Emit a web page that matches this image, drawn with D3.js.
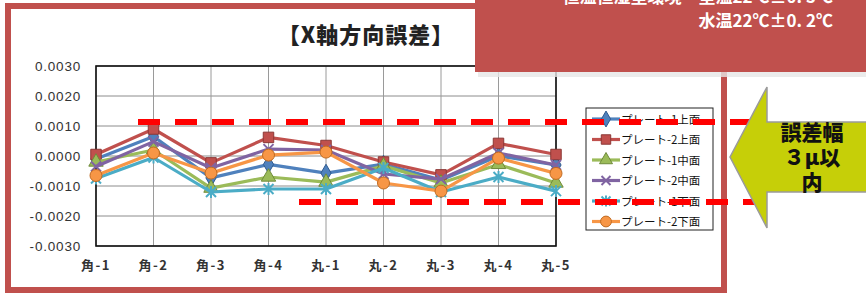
<!DOCTYPE html>
<html><head><meta charset="utf-8">
<script src="https://cdn.jsdelivr.net/npm/d3@7/dist/d3.min.js"></script>
<style>html,body{margin:0;padding:0;background:#fff;overflow:hidden}</style>
</head><body>
<script>
const categories = ["角-1","角-2","角-3","角-4","丸-1","丸-2","丸-3","丸-4","丸-5"];
const seriesNames = ["プレート-1上面","プレート-2上面","プレート-1中面","プレート-2中面","プレート-1下面","プレート-2下面"];
const plate1Top    = [-0.00010, 0.00065, -0.00073, -0.00028, -0.00057, -0.00027, -0.00080,  0.00000, -0.00030];
const plate2Top    = [ 0.00005, 0.00090, -0.00023,  0.00062,  0.00035, -0.00020, -0.00063,  0.00042,  0.00005];
const plate1Mid    = [-0.00020, 0.00020, -0.00107, -0.00070, -0.00087, -0.00033, -0.00090, -0.00028, -0.00090];
const plate2Mid    = [-0.00035, 0.00048, -0.00040,  0.00023,  0.00020, -0.00060, -0.00077,  0.00010, -0.00030];
const plate1Bottom = [-0.00075,-0.00005, -0.00120, -0.00110, -0.00110, -0.00040, -0.00120, -0.00070, -0.00117];
const plate2Bottom = [-0.00065, 0.00010, -0.00057,  0.00003,  0.00013, -0.00090, -0.00117, -0.00007, -0.00058];
const yTicks = [0.003, 0.002, 0.001, 0, -0.001, -0.002, -0.003];
const yTickLabels = ["0.0030","0.0020","0.0010","0.0000","-0.0010","-0.0020","-0.0030"];
const title = "【X軸方向誤差】";
const boxLine1 = "恒温恒湿室環境－室温22℃±0. 5℃";
const boxLine2 = "水温22℃±0. 2℃";
const arrowLines = ["誤差幅","３μ以","内"];
const bandLimits = [0.00113, -0.00153];

const seriesData = [plate1Top, plate2Top, plate1Mid, plate2Mid, plate1Bottom, plate2Bottom];
const colors = ["#4F81BD","#C0504D","#9BBB59","#8064A2","#4BACC6","#F79646"];
const strokes = ["#2f5a8f","#8C3836","#6f8b3a","#5c4680","#2f8aa3","#c06a20"];
const markerTypes = ["diamond","square","triangle","x","star","circle"];

const W = 866, H = 297;
const svg = d3.select("body").append("svg").attr("width", W).attr("height", H)
  .style("font-family","'Liberation Sans', Arial, sans-serif");

const x = d3.scalePoint().domain(categories).range([96, 556]).padding(0);
const y = d3.scaleLinear().domain([-0.003, 0.003]).range([246, 66]);

// outer frame
svg.append("rect").attr("x", 8).attr("y", 6).attr("width", 716).attr("height", 284)
  .attr("fill", "#fff").attr("stroke", "#c0504d").attr("stroke-width", 6);

// title
svg.append("text").attr("x", 366).attr("y", 43).attr("text-anchor", "middle")
  .style("font-family","'Noto Sans CJK JP', sans-serif").style("font-weight","900")
  .style("font-size","22px").style("letter-spacing","1px").attr("fill","#222").text(title);

// grid
const g = svg.append("g");
g.selectAll("line.h").data(yTicks).join("line")
  .attr("x1", 96).attr("x2", 556).attr("y1", d => y(d)).attr("y2", d => y(d))
  .attr("stroke", "#8c8c8c").attr("stroke-width", 1);
g.selectAll("line.v").data(categories).join("line")
  .attr("x1", d => x(d)).attr("x2", d => x(d)).attr("y1", 66).attr("y2", 246)
  .attr("stroke", "#9a9a9a").attr("stroke-width", 1);
g.append("rect").attr("x", 96).attr("y", 66).attr("width", 460).attr("height", 180)
  .attr("fill", "none").attr("stroke", "#111").attr("stroke-width", 1.6);

// y labels
g.selectAll("text.yl").data(yTicks).join("text")
  .attr("x", 81).attr("y", d => y(d) + 5).attr("text-anchor", "end")
  .style("font-size","13.5px").style("letter-spacing","0.8px").attr("fill","#333")
  .text((d, i) => yTickLabels[i]);

// x labels
g.selectAll("text.xl").data(categories).join("text")
  .attr("x", d => x(d)).attr("y", 270).attr("text-anchor", "middle")
  .style("font-family","'Noto Sans CJK JP', sans-serif").style("font-size","13px")
  .style("font-weight","bold").style("letter-spacing","1.5px").attr("fill","#333")
  .text(d => d);

function marker(sel, type, color, stroke, s) {
  if (type === "circle") {
    sel.append("circle").attr("r", s * 0.6).attr("fill", color).attr("stroke", stroke).attr("stroke-width", 1);
  } else if (type === "x" || type === "star") {
    const r = s * 0.5;
    const p = `M${-r},${-r}L${r},${r}M${-r},${r}L${r},${-r}` + (type === "star" ? `M0,${-r * 1.2}L0,${r * 1.2}` : "");
    sel.append("path").attr("d", p).attr("stroke", color).attr("stroke-width", 2).attr("fill", "none");
  } else {
    const sym = type === "diamond" ? d3.symbolDiamond : type === "square" ? d3.symbolSquare : d3.symbolTriangle;
    const size = type === "diamond" ? s * s * 0.9 : type === "square" ? s * s * 1.1 : s * s * 0.9;
    sel.append("path").attr("d", d3.symbol().type(sym).size(size)()).attr("fill", color)
      .attr("stroke", stroke).attr("stroke-width", 1);
  }
}

// series
const line = d3.line().x((d, i) => x(categories[i])).y(d => y(d));
seriesData.forEach((vals, si) => {
  const sg = svg.append("g");
  sg.append("path").datum(vals).attr("d", line).attr("fill", "none")
    .attr("stroke", colors[si]).attr("stroke-width", 3.2).attr("stroke-linejoin", "round");
  vals.forEach((v, i) => {
    const mg = sg.append("g").attr("transform", `translate(${x(categories[i])},${y(v)})`);
    marker(mg, markerTypes[si], colors[si], strokes[si], 10);
  });
});

// legend
const lg = svg.append("g");
lg.append("rect").attr("x", 586).attr("y", 108).attr("width", 127).attr("height", 122)
  .attr("fill", "#fff").attr("stroke", "#222").attr("stroke-width", 1);
seriesNames.forEach((n, i) => {
  const yy = 119 + i * 20.5;
  lg.append("line").attr("x1", 592).attr("x2", 620).attr("y1", yy).attr("y2", yy)
    .attr("stroke", colors[i]).attr("stroke-width", 3.2);
  const mg = lg.append("g").attr("transform", `translate(606,${yy})`);
  marker(mg, markerTypes[i], colors[i], strokes[i], 9);
  lg.append("text").attr("x", 621).attr("y", yy + 4.5)
    .style("font-family","'Noto Sans CJK JP', sans-serif").style("font-size","11.5px")
    .attr("fill","#111").text(n);
});

// red dashed band lines
svg.append("line").attr("x1", 138).attr("x2", 750).attr("y1", y(bandLimits[0])).attr("y2", y(bandLimits[0]))
  .attr("stroke", "#ff0000").attr("stroke-width", 6).attr("stroke-dasharray", "22,15");
svg.append("line").attr("x1", 299).attr("x2", 762).attr("y1", y(bandLimits[1])).attr("y2", y(bandLimits[1]))
  .attr("stroke", "#ff0000").attr("stroke-width", 6).attr("stroke-dasharray", "22,15");

// top red box
svg.append("rect").attr("x", 478).attr("y", 0).attr("width", 390).attr("height", 77).attr("fill", "#e6e6e6").attr("opacity", 0.8);
svg.append("rect").attr("x", 475).attr("y", -5).attr("width", 395).attr("height", 77).attr("fill", "#c0504d");
const bt = svg.append("text").attr("text-anchor", "end")
  .style("font-family","'Noto Sans CJK JP', sans-serif").style("font-weight","bold").style("font-size","17px")
  .attr("fill","#fff");
bt.append("tspan").attr("x", 833).attr("y", 3).text(boxLine1);
bt.append("tspan").attr("x", 833).attr("y", 27).text(boxLine2);

// arrow
const ap = d3.path();
ap.moveTo(730, 157); ap.lineTo(767, 87); ap.lineTo(767, 122); ap.lineTo(870, 122);
ap.lineTo(870, 192); ap.lineTo(767, 192); ap.lineTo(767, 228); ap.closePath();
svg.append("path").attr("d", ap.toString()).attr("fill", "#c6cf08").attr("stroke", "#9a9a9a").attr("stroke-width", 1.5);
const at = svg.append("text").attr("text-anchor", "middle")
  .style("font-family","'Noto Sans CJK JP', sans-serif").style("font-weight","900").style("font-size","21px")
  .attr("fill","#111");
arrowLines.forEach((t, i) => {
  at.append("tspan").attr("x", 812).attr("y", 140 + i * 25).text(t);
});
</script>
</body></html>
